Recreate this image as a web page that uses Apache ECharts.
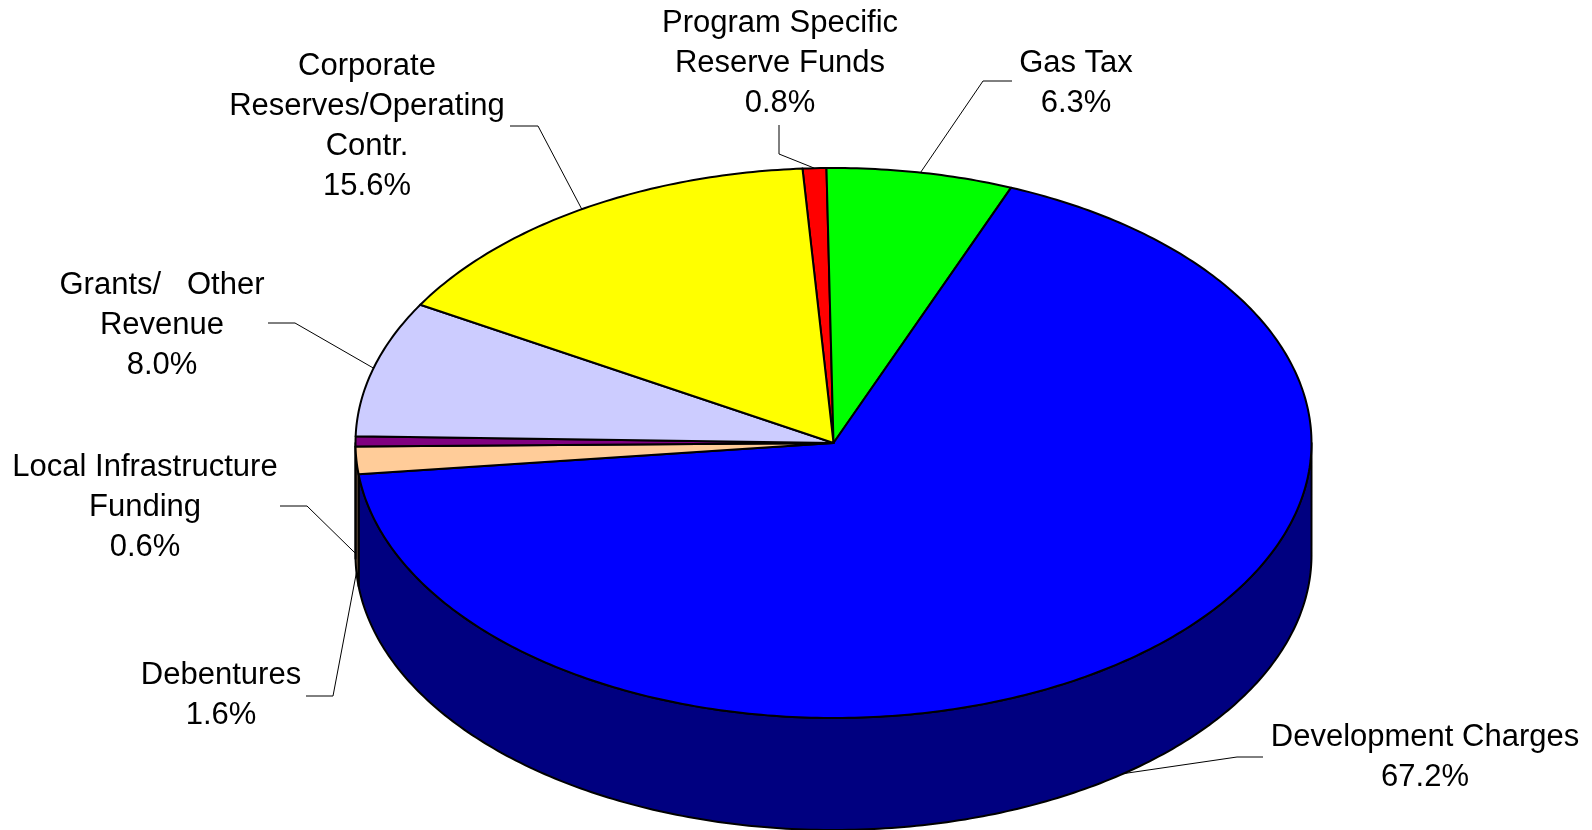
<!DOCTYPE html>
<html>
<head>
<meta charset="utf-8">
<script src="https://cdn.jsdelivr.net/npm/echarts@6/dist/echarts.min.js"></script>
<style>
  html, body { margin: 0; padding: 0; background: #ffffff; }
  #chart { width: 1592px; height: 830px; }
</style>
</head>
<body>
<div id="chart"></div>
<script>
// Funding sources, in clockwise order starting just left of the top of the pie
const categories = [
  'Program Specific\nReserve Funds',
  'Gas Tax',
  'Development Charges',
  'Debentures',
  'Local Infrastructure\nFunding',
  'Grants/   Other\nRevenue',
  'Corporate\nReserves/Operating\nContr.'
];
const shares = [0.8, 6.3, 67.2, 1.6, 0.6, 8.0, 15.6];

// Slice colours: top face and darker side wall
const topColors  = ['#FF0000', '#00FF00', '#0000FF', '#FFCC99', '#800080', '#CCCCFF', '#FFFF00'];
const sideColors = ['#800000', '#008000', '#000080', '#80664C', '#400040', '#666680', '#808000'];

// Label placement: text centre, leader elbow, leader end (pixels)
const labelLayout = [
  { at: [780, 63],   elbow: [779, 154], end: [779, 125] },
  { at: [1076, 83],  elbow: [983, 81],  end: [1012, 81] },
  { at: [1425, 757], elbow: [1237, 757], end: [1263, 757] },
  { at: [221, 695],  elbow: [333, 696], end: [306, 696] },
  { at: [145, 507],  elbow: [307, 506], end: [280, 506] },
  { at: [162, 325],  elbow: [295, 323], end: [268, 323] },
  { at: [367, 126],  elbow: [538, 126], end: [510, 126] }
];

// Tilted pie geometry
const PIE = { cx: 833.5, cy: 443, rx: 478, ry: 275, depth: 112, start: -3.72 };

const total = shares.reduce((a, b) => a + b, 0);
const bounds = [];
(function () {
  let a = PIE.start;
  shares.forEach(v => {
    const span = v / total * 360;
    bounds.push([a, a + span]);
    a += span;
  });
})();

function pt(deg, dz) {
  const r = deg * Math.PI / 180;
  return [PIE.cx + PIE.rx * Math.sin(r), PIE.cy - PIE.ry * Math.cos(r) + (dz || 0)];
}
function arc(a0, a1, dz) {
  const pts = [];
  const n = Math.max(2, Math.ceil(Math.abs(a1 - a0) / 0.75));
  for (let i = 0; i <= n; i++) pts.push(pt(a0 + (a1 - a0) * i / n, dz));
  return pts;
}

function renderItem(params, api) {
  const i = params.dataIndex;
  const value = api.value(0);
  const [a0, a1] = bounds[i];
  const children = [];

  // top face
  children.push({
    type: 'polygon',
    z2: 10,
    shape: { points: [[PIE.cx, PIE.cy]].concat(arc(a0, a1, 0)) },
    style: { fill: topColors[i], stroke: '#000', lineWidth: 2, lineJoin: 'round' }
  });

  // visible side wall (front half of the rim)
  const lo = Math.max(a0, 90), hi = Math.min(a1, 270);
  if (hi > lo) {
    const pts = arc(lo, hi, 0).concat(arc(hi, lo, PIE.depth));
    children.push({
      type: 'polygon',
      z2: 5,
      shape: { points: pts },
      style: { fill: sideColors[i], stroke: '#000', lineWidth: 2, lineJoin: 'round' }
    });
  }

  // leader line from the rim to the label
  const mid = (a0 + a1) / 2;
  const midR = mid * Math.PI / 180;
  const anchor = Math.cos(midR) < 0.05 ? pt(mid, PIE.depth) : pt(mid, 0);
  const lay = labelLayout[i];
  children.push({
    type: 'polyline',
    z2: 15,
    shape: { points: [anchor, lay.elbow, lay.end] },
    style: { fill: null, stroke: '#000', lineWidth: 1 }
  });

  // label: name and share
  children.push({
    type: 'text',
    z2: 20,
    x: lay.at[0],
    y: lay.at[1],
    style: {
      text: categories[i] + '\n' + value.toFixed(1) + '%',
      align: 'center',
      verticalAlign: 'middle',
      fontFamily: '"Liberation Sans", Arial, sans-serif',
      fontSize: 31,
      lineHeight: 40,
      fill: '#000'
    }
  });

  return { type: 'group', children: children };
}

const chart = echarts.init(document.getElementById('chart'), null, { renderer: 'canvas' });
chart.setOption({
  backgroundColor: '#ffffff',
  animation: false,
  series: [{
    type: 'custom',
    coordinateSystem: 'none',
    renderItem: renderItem,
    data: shares.map((v, i) => ({ name: categories[i], value: v }))
  }]
});
</script>
</body>
</html>
